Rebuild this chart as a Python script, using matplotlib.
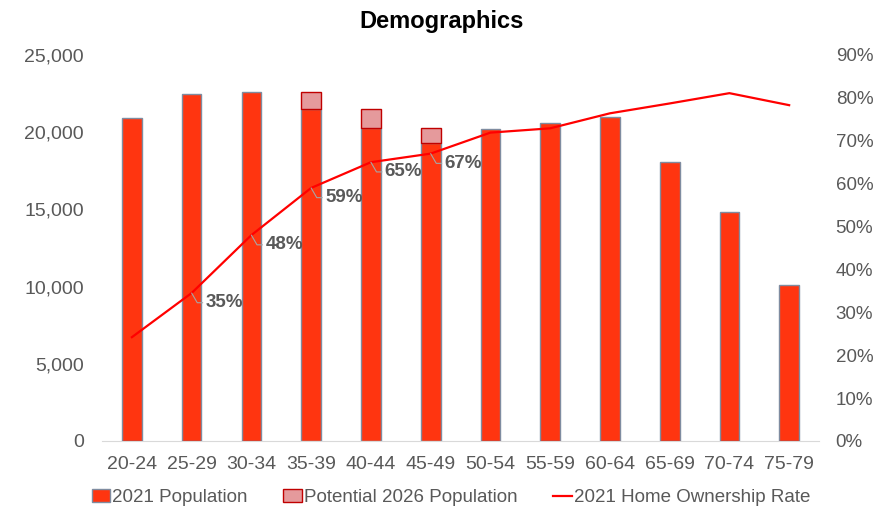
import numpy as np
import matplotlib.pyplot as plt
from matplotlib.ticker import FuncFormatter, PercentFormatter

plt.rcParams['font.family'] = ['Liberation Sans', 'DejaVu Sans']

# --- data ---
age_groups = ["20-24", "25-29", "30-34", "35-39", "40-44", "45-49",
              "50-54", "55-59", "60-64", "65-69", "70-74", "75-79"]
pop_2021 = [20900, 22500, 22600, 21500, 20300, 19300,
            20200, 20600, 21000, 18100, 14800, 10100]
pot_2026 = [0, 0, -120, 1100, 1200, 1000, 0, 0, 0, 0, 0, 0]
own_rate = [0.242, 0.345, 0.48, 0.59, 0.65, 0.67,
            0.719, 0.729, 0.764, 0.787, 0.811, 0.783]
labelled = ["25-29", "30-34", "35-39", "40-44", "45-49"]
label_txt = ["35%", "48%", "59%", "65%", "67%"]

BAR_RED = "#FF3510"
PINK = "#E59A9C"
GRAY_TXT = "#595959"

fig = plt.figure(figsize=(8.84, 5.13), dpi=100)
ax = fig.add_axes([0.1154, 0.1404, 0.8111, 0.7524])
ax2 = ax.twinx()

x = np.arange(len(age_groups))
w = 0.33

ax.bar(x, pop_2021, w, color=BAR_RED, edgecolor="#7F8CA0", linewidth=1.0,
       label="2021 Population", zorder=2)
bottoms = [p if v > 0 else 0 for p, v in zip(pop_2021, pot_2026)]
ax.bar(x, pot_2026, w, bottom=bottoms, color=PINK, edgecolor="#C00000",
       linewidth=1.0, label="Potential 2026 Population", zorder=2)

ax.set_xlim(-0.5, len(age_groups) - 0.5)
ax.set_ylim(0, 25000)
ax.set_yticks(range(0, 25001, 5000))
ax.yaxis.set_major_formatter(FuncFormatter(lambda v, p: f"{int(v):,}"))
ax.set_xticks(x)
ax.set_xticklabels(age_groups)

ax2.plot(x, own_rate, color="#FF0000", lw=1.6, label="2021 Home Ownership Rate", zorder=3)
ax2.set_ylim(0, 0.9)
ax2.set_yticks(np.arange(0, 0.91, 0.1))
ax2.yaxis.set_major_formatter(PercentFormatter(1.0, decimals=0))

# data labels with short leader lines
for grp, txt in zip(labelled, label_txt):
    i = age_groups.index(grp)
    ax2.annotate(txt, (x[i], own_rate[i]), xytext=(10, -7), textcoords="offset points",
                 ha="left", va="center", fontsize=13.5, fontweight="bold", color=GRAY_TXT,
                 arrowprops=dict(arrowstyle="-", color="#A6A6A6", lw=0.8, shrinkA=0, shrinkB=0,
                                 relpos=(0, 0.5),
                                 connectionstyle="angle,angleA=0,angleB=120,rad=0"))

for a in (ax, ax2):
    for s in a.spines.values():
        s.set_visible(False)
    a.tick_params(length=0, labelsize=14, labelcolor=GRAY_TXT)
ax.spines["bottom"].set_visible(True)
ax.spines["bottom"].set_color("#D9D9D9")
ax.tick_params(axis="y", pad=13)
ax.tick_params(axis="x", pad=11)
ax2.tick_params(axis="y", pad=12, labelsize=13.5)

fig.suptitle("Demographics", fontsize=17, fontweight="bold", y=0.98)

h1, l1 = ax.get_legend_handles_labels()
h2, l2 = ax2.get_legend_handles_labels()
fig.legend(h1 + h2, l1 + l2, loc="lower center", ncol=3, frameon=False,
           bbox_to_anchor=(0.51, -0.02), fontsize=13.5, labelcolor=GRAY_TXT,
           handlelength=1.0, handletextpad=0.1, columnspacing=1.9)

fig.savefig("out.png", dpi=100)
